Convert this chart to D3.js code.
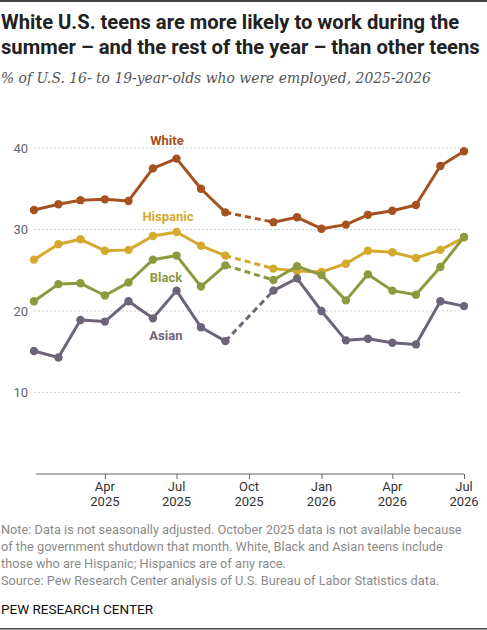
<!DOCTYPE html>
<meta charset="utf-8">
<head>
  <script src="https://cdn.jsdelivr.net/npm/d3@7"></script>
</head>
<style>
  body { margin: 0; background: #fff; }
  svg { display: block; }
  .grid line { stroke: #cfcfcf; stroke-dasharray: 2,2; }
  .ylab { font-family: Roboto, sans-serif; font-size: 13px; fill: #666; }
  .xlab { font-family: Roboto, sans-serif; font-size: 13px; fill: #333; }
</style>
<body></body>
<script>
  var width = 487, height = 630;

  // months Jan 2025 .. Jul 2026, October 2025 not reported
  var months = ["2025-01","2025-02","2025-03","2025-04","2025-05","2025-06","2025-07","2025-08","2025-09","2025-10",
                "2025-11","2025-12","2026-01","2026-02","2026-03","2026-04","2026-05","2026-06","2026-07"];
  var white    = [32.4,33.1,33.6,33.7,33.5,37.5,38.7,35.0,32.1,null,30.9,31.5,30.1,30.6,31.8,32.3,33.0,37.8,39.6];
  var hispanic = [26.3,28.2,28.8,27.4,27.5,29.2,29.7,28.0,26.8,null,25.2,24.9,24.8,25.8,27.4,27.2,26.5,27.5,29.0];
  var black    = [21.2,23.3,23.4,21.9,23.5,26.3,26.8,23.0,25.6,null,23.8,25.5,24.4,21.3,24.5,22.5,22.0,25.4,29.1];
  var asian    = [15.1,14.3,18.9,18.7,21.2,19.1,22.5,18.0,16.3,null,22.5,24.0,20.0,16.4,16.6,16.1,15.9,21.2,20.6];

  var yTicks = [10, 20, 30, 40];
  var xTicks = ["2025-04","2025-07","2025-10","2026-01","2026-04","2026-07"];

  var series = [
    {name: "White",    values: white,    color: "#a5521e", label: {m: "2025-06", dx: 14, y: 40.35}},
    {name: "Hispanic", values: hispanic, color: "#d4a92d", label: {m: "2025-06", dx: 15, y: 31.0}},
    {name: "Black",    values: black,    color: "#8c9a3d", label: {m: "2025-06", dx: 13, y: 23.6}},
    {name: "Asian",    values: asian,    color: "#6e6479", label: {m: "2025-06", dx: 13, y: 16.45}}
  ];

  var parse = d3.timeParse("%Y-%m");
  var fmtMon = d3.timeFormat("%b"), fmtYr = d3.timeFormat("%Y");

  var x = d3.scaleTime()
      .domain([parse(months[0]), parse(months[months.length - 1])])
      .range([34, 464]);
  var y = d3.scaleLinear().domain([0, 40]).range([474, 148]);

  var svg = d3.select("body").append("svg")
      .attr("width", width)
      .attr("height", height);

  // frame rules
  svg.append("rect").attr("x", 0).attr("y", 0).attr("width", width).attr("height", 2).attr("fill", "#444");
  svg.append("rect").attr("x", 0).attr("y", height - 2).attr("width", width).attr("height", 1.5).attr("fill", "#444");

  // title + subtitle
  var title = svg.append("text")
      .attr("font-family", "Roboto, sans-serif")
      .attr("font-weight", "bold")
      .attr("font-size", 20.2)
      .attr("fill", "#222");
  title.append("tspan").attr("x", 1).attr("y", 29).text("White U.S. teens are more likely to work during the");
  title.append("tspan").attr("x", 1).attr("y", 54).text("summer \u2013 and the rest of the year \u2013 than other teens");

  svg.append("text")
      .attr("x", 1).attr("y", 83)
      .attr("font-family", "'DejaVu Serif', Georgia, serif")
      .attr("font-style", "italic")
      .attr("font-size", 13.9)
      .attr("fill", "#555")
      .text("% of U.S. 16- to 19-year-olds who were employed, 2025-2026");

  // gridlines
  var grid = svg.append("g").attr("class", "grid");
  grid.selectAll("line").data(yTicks).join("line")
      .attr("x1", 34).attr("x2", 462)
      .attr("y1", d => y(d)).attr("y2", d => y(d));
  svg.selectAll(".ylab").data(yTicks).join("text")
      .attr("class", "ylab")
      .attr("x", 28).attr("y", d => y(d) + 4.5)
      .attr("text-anchor", "end")
      .text(d => d);

  // x axis
  var xAxis = svg.append("g").attr("transform", "translate(0," + y(0) + ")")
      .call(d3.axisBottom(x).tickValues(xTicks.map(parse)).tickSize(5).tickFormat(""));
  xAxis.select(".domain").attr("stroke", "#666").attr("d", "M" + 36 + ",0H" + 464);
  xAxis.selectAll(".tick line").attr("stroke", "#666");
  var xl = svg.append("g").selectAll("text").data(xTicks).join("text")
      .attr("class", "xlab")
      .attr("text-anchor", "middle")
      .attr("transform", d => "translate(" + x(parse(d)) + ",0)");
  xl.append("tspan").attr("x", 0).attr("y", 491).text(d => fmtMon(parse(d)));
  xl.append("tspan").attr("x", 0).attr("y", 506).text(d => fmtYr(parse(d)));

  // lines
  var line = d3.line()
      .defined(d => d.v != null)
      .x(d => x(d.date))
      .y(d => y(d.v));

  var gap = months.indexOf("2025-10");

  series.forEach(function (s) {
    var pts = months.map((m, i) => ({date: parse(m), v: s.values[i]}));
    var g = svg.append("g");
    // dashed bridge across the missing month
    g.append("path")
        .datum([pts[gap - 1], pts[gap + 1]])
        .attr("fill", "none")
        .attr("stroke", s.color)
        .attr("stroke-width", 3)
        .attr("stroke-dasharray", "6,4")
        .attr("d", line);
    g.append("path")
        .datum(pts)
        .attr("fill", "none")
        .attr("stroke", s.color)
        .attr("stroke-width", 3)
        .attr("stroke-linejoin", "round")
        .attr("d", line);
    g.selectAll("circle").data(pts.filter(d => d.v != null)).join("circle")
        .attr("cx", d => x(d.date))
        .attr("cy", d => y(d.v))
        .attr("r", 4.2)
        .attr("fill", s.color);
    svg.append("text")
        .attr("x", x(parse(s.label.m)) + s.label.dx)
        .attr("y", y(s.label.y))
        .attr("text-anchor", "middle")
        .attr("font-family", "Roboto, sans-serif")
        .attr("font-weight", "bold")
        .attr("font-size", 13)
        .attr("fill", s.color)
        .text(s.name);
  });

  // notes
  var notes = [
    "Note: Data is not seasonally adjusted. October 2025 data is not available because",
    "of the government shutdown that month. White, Black and Asian teens include",
    "those who are Hispanic; Hispanics are of any race.",
    "Source: Pew Research Center analysis of U.S. Bureau of Labor Statistics data."
  ];
  svg.append("g").selectAll("text").data(notes).join("text")
      .attr("x", 1).attr("y", (d, i) => 534 + i * 17)
      .attr("font-family", "Roboto, sans-serif")
      .attr("font-size", 12.75)
      .attr("fill", "#8a8a8a")
      .text(d => d);

  svg.append("text")
      .attr("x", 1).attr("y", 614)
      .attr("font-family", "Roboto, sans-serif")
      .attr("font-size", 13.5)
      .attr("fill", "#111")
      .text("PEW RESEARCH CENTER");
</script>
